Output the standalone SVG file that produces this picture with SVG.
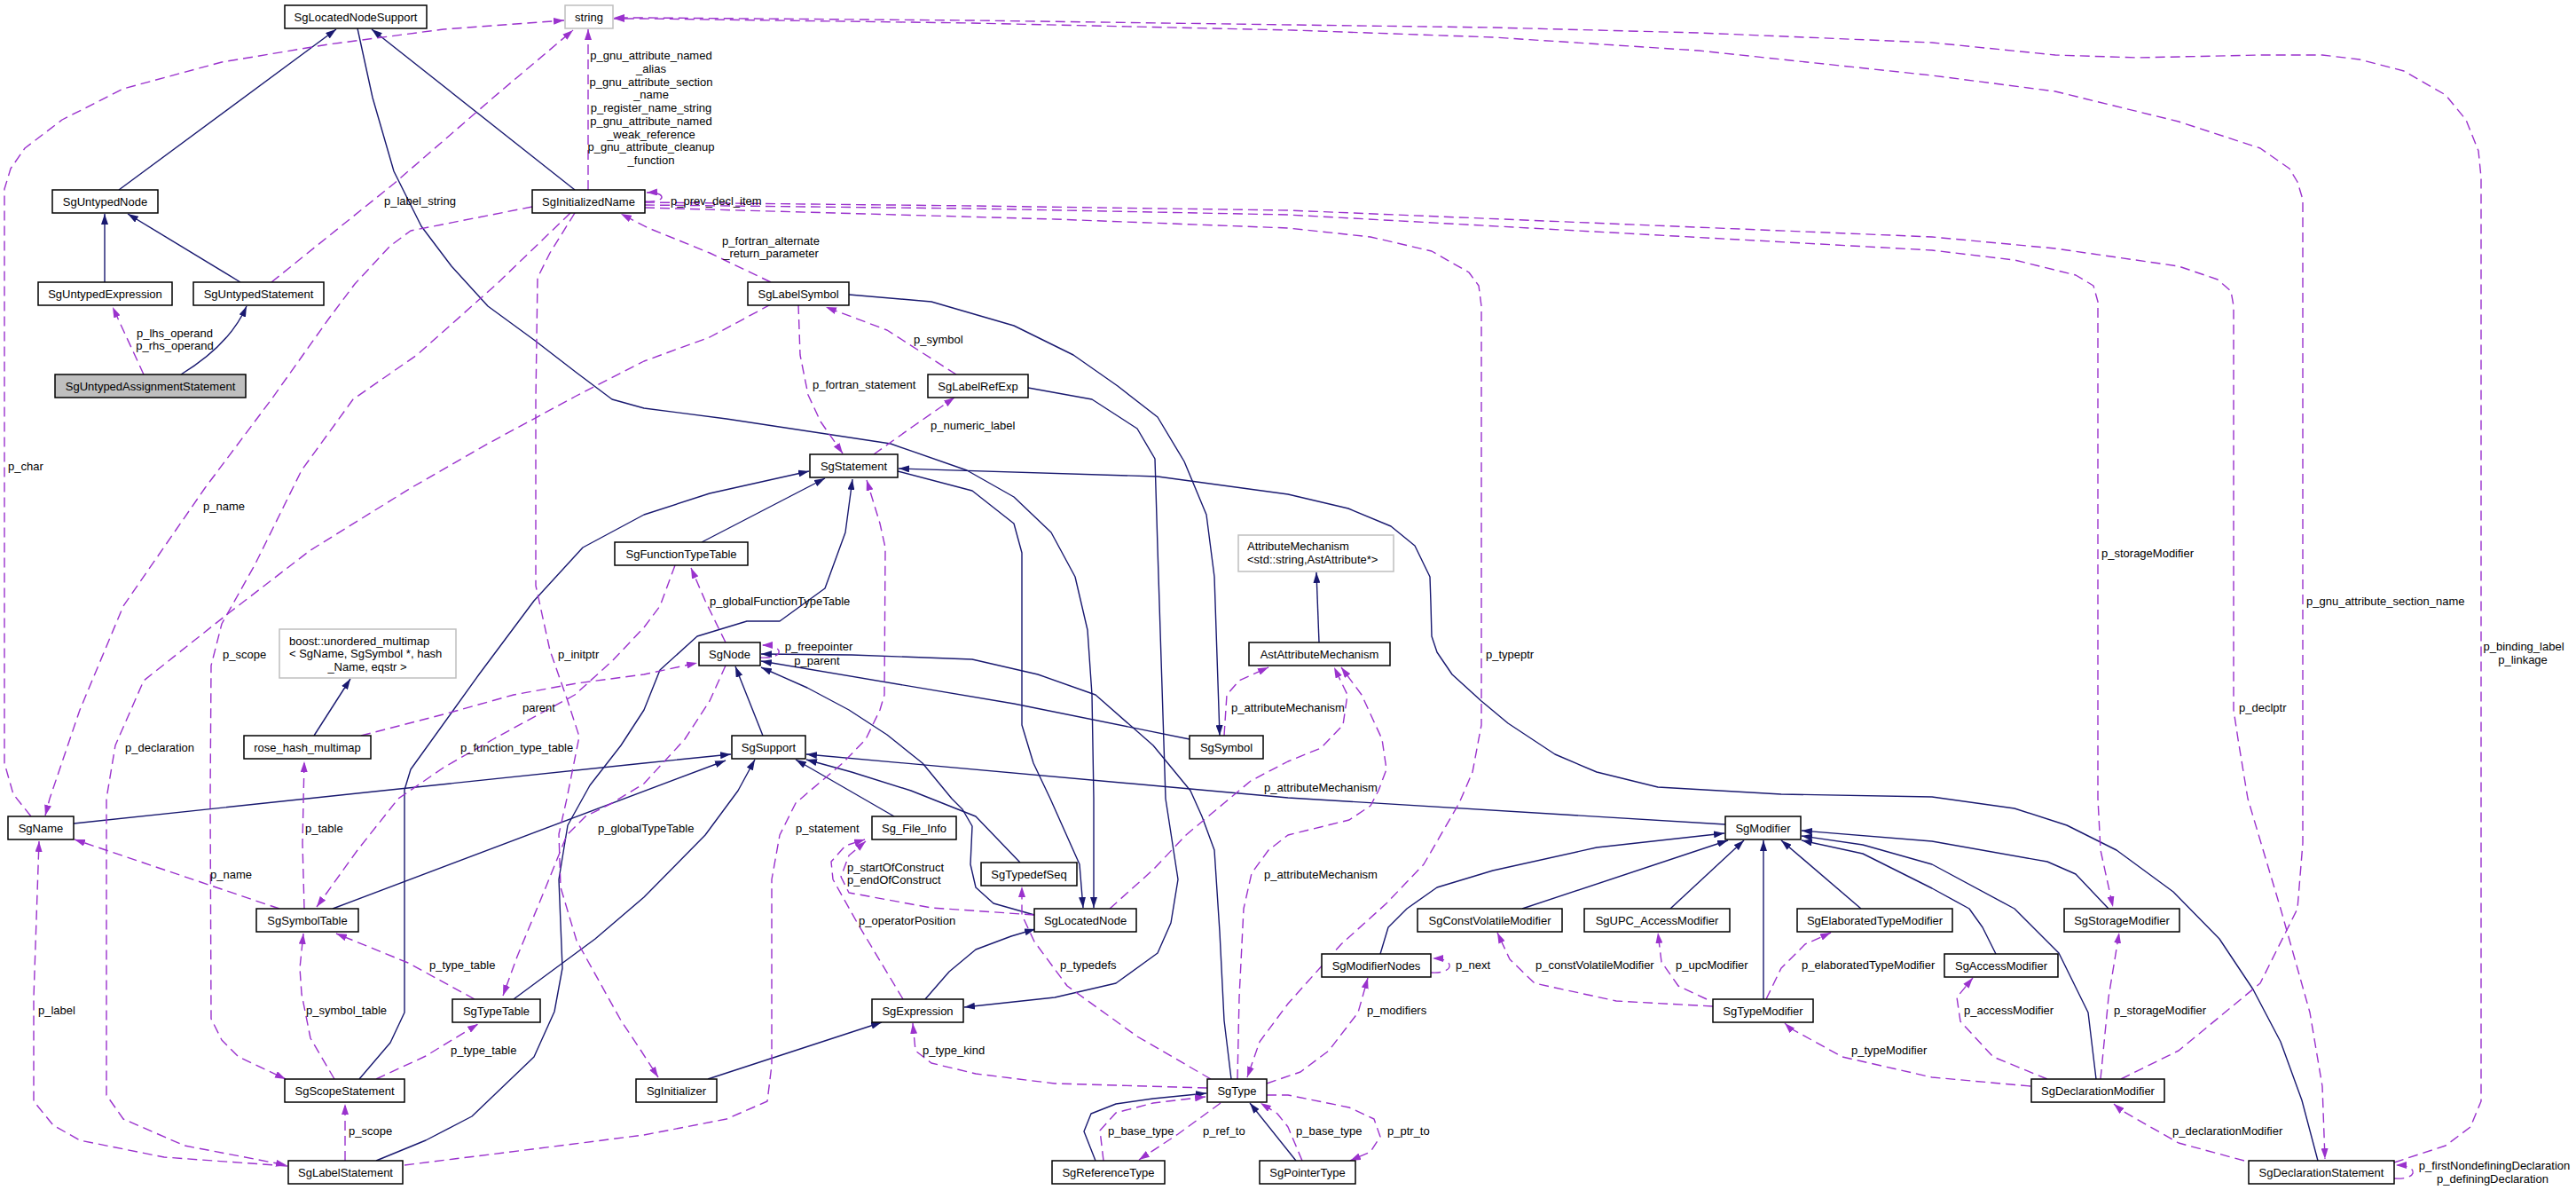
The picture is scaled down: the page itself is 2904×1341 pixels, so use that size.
<svg xmlns="http://www.w3.org/2000/svg" width="2904" height="1341" viewBox="0 0 2904 1341">
<style>
text{font-family:"Liberation Sans",Arial,sans-serif;font-size:13px;fill:#000}
.nd rect{fill:#fff;stroke:#000;stroke-width:1.5}
.ex rect{fill:#fff;stroke:#bfbfbf;stroke-width:1.5}
.sel rect{fill:#bfbfbf;stroke:#000;stroke-width:1.5}
.nd text,.ex text.c,.sel text,.c{text-anchor:middle}
.i{fill:none;stroke:#191970;stroke-width:1.4;stroke-linejoin:round;marker-end:url(#an)}
.u{fill:none;stroke:#9a32cd;stroke-width:1.4;stroke-dasharray:11,6;stroke-linejoin:round;marker-end:url(#ap)}
</style>
<defs>
<marker id="an" viewBox="0 0 12 8" refX="12" refY="4" markerWidth="12" markerHeight="8" markerUnits="userSpaceOnUse" orient="auto"><path d="M0,0L12,4L0,8z" fill="#191970"/></marker>
<marker id="ap" viewBox="0 0 12 8" refX="12" refY="4" markerWidth="12" markerHeight="8" markerUnits="userSpaceOnUse" orient="auto"><path d="M0,0L12,4L0,8z" fill="#9a32cd"/></marker>
</defs>
<rect width="2904" height="1341" fill="#fff"/>
<g id="connectors">
<path class="i" d="M204,422 C240,400 265,375 278,345"/>
<path class="i" d="M118,318 L118,241"/>
<path class="i" d="M271,318 L144,241"/>
<path class="i" d="M134,214 L379,33"/>
<path class="i" d="M648,214 L419,33"/>
<path class="i" d="M403,32 L420,110 L444,193 L475,255 L509,300 L550,345 L602,383 L650,420 L690,450 L726,460 L819,472 L1004,500 L1090,530 L1143,560 L1185,600 L1212,650 L1226,710 L1231,783 L1233,900 L1233,1023"/>
<path class="i" d="M1012,531 L1096,553 L1143,590 L1152,623 L1152,817 L1165,860 L1184,900 L1217,974 L1221,1023"/>
<path class="i" d="M791,611 L930,539"/>
<path class="i" d="M405,1216 L440,1175 L456,1141 L456,890 L463,867 L540,760 L602,677 L657,617 L726,580 L800,556 L912,531"/>
<path class="i" d="M424,1308 L480,1285 L532,1258 L602,1191 L625,1140 L634,1091 L630,991 L640,930 L665,885 L700,840 L726,800 L744,755 L786,717 L842,700 L879,700 L930,663 L953,600 L961,540"/>
<path class="i" d="M2613,1308 L2595,1240 L2571,1174 L2540,1115 L2502,1058 L2450,1005 L2386,958 L2330,930 L2271,911 L2178,898 L2008,895 L1869,887 L1800,870 L1753,850 L1700,815 L1670,790 L1637,760 L1620,735 L1614,717 L1613,680 L1612,650 L1595,615 L1568,593 L1520,573 L1452,557 L1305,537 L1013,528"/>
<path class="i" d="M957,332 L1050,340 L1143,367 L1210,400 L1260,435 L1305,470 L1335,520 L1360,580 L1369,650 L1375,829"/>
<path class="i" d="M1159,437 L1231,450 L1282,483 L1302,517 L1305,617 L1314,900 L1328,991 L1320,1040 L1305,1074 L1258,1108 L1189,1124 L1087,1135"/>
<path class="i" d="M1043,1126 L1070,1095 L1100,1070 L1140,1055 L1167,1047"/>
<path class="i" d="M798,1216 L994,1152"/>
<path class="i" d="M1166,1031 L1120,1018 L1100,1000 L1094,974 L1096,931 L1085,912 L1073,900 L1040,860 L1000,828 L957,800 L910,775 L858,752"/>
<path class="i" d="M860,829 L829,751"/>
<path class="i" d="M1341,833 L1143,793 L858,745"/>
<path class="i" d="M1388,1216 L1380,1150 L1375,1050 L1369,958 L1355,920 L1342,891 L1300,840 L1235,783 L1170,760 L1096,743 L960,738 L858,737"/>
<path class="i" d="M83,928 L431,891 L726,860 L824,850"/>
<path class="i" d="M375,1024 L818,857"/>
<path class="i" d="M579,1126 L671,1058 L726,1011 L795,941 L832,891 L851,856"/>
<path class="i" d="M1008,920 L897,856"/>
<path class="i" d="M1150,972 L1100,920 L1027,891 L960,870 L909,856"/>
<path class="i" d="M1945,929 L1452,899 L909,850"/>
<path class="i" d="M354,829 L395,765"/>
<path class="i" d="M1487,724 L1484,645"/>
<path class="i" d="M1235,1308 L1222,1275 L1230,1255 L1258,1244 L1300,1238 L1360,1232"/>
<path class="i" d="M1461,1308 L1409,1243"/>
<path class="i" d="M1556,1075 L1565,1045 L1586,1024 L1620,1000 L1683,981 L1800,955 L1944,939"/>
<path class="i" d="M1716,1024 L1948,947"/>
<path class="i" d="M1883,1024 L1966,947"/>
<path class="i" d="M1988,1126 L1988,947"/>
<path class="i" d="M2098,1024 L2008,947"/>
<path class="i" d="M2250,1075 L2235,1045 L2220,1024 L2178,1001 L2100,962 L2031,947"/>
<path class="i" d="M2363,1216 L2354,1141 L2321,1074 L2271,1024 L2178,974 L2100,952 L2031,942"/>
<path class="i" d="M2377,1024 L2340,985 L2308,971 L2178,948 L2031,936"/>

<path class="u" d="M162,422 L127,346"/>
<path class="u" d="M306,318 L444,207 L556,110 L646,34"/>
<path class="u" d="M663,214 L663,33"/>
<path class="u" d="M35,920 L15,895 L5,860 L5,213 L12,190 L28,167 L70,135 L139,100 L250,70 L370,50 L500,33 L636,23"/>
<path class="u" d="M600,233 L463,260 L440,277 L400,320 L370,360 L306,450 L231,550 L139,683 L90,800 L56,900 L51,919"/>
<path class="u" d="M643,240 L560,320 L470,400 L398,450 L340,530 L287,637 L250,703 L238,750 L237,900 L238,1148 L250,1172 L269,1191 L322,1216"/>
<path class="u" d="M648,240 L620,285 L606,313 L604,450 L604,660 L620,733 L640,790 L653,830 L645,870 L639,900 L630,940 L632,1000 L650,1060 L700,1150 L722,1183 L742,1214"/>
<path class="u" d="M727,227 C752,229 752,216 729,217"/>
<path class="u" d="M727,228 L1096,232 L1452,237 L1815,252 L2178,267 L2317,280 L2456,300 L2500,315 L2515,328 L2518,345 L2518,800 L2523,833 L2534,900 L2571,1024 L2604,1141 L2618,1224 L2621,1306"/>
<path class="u" d="M727,231 L1096,235 L1452,242 L1815,262 L2178,282 L2271,293 L2340,310 L2360,322 L2365,340 L2365,900 L2368,958 L2382,1022"/>
<path class="u" d="M727,234 L1189,247 L1452,257 L1545,267 L1614,283 L1656,307 L1667,322 L1670,345 L1670,817 L1660,870 L1645,905 L1605,974 L1563,1018 L1512,1064 L1452,1131 L1420,1174 L1406,1214"/>
<path class="u" d="M869,318 L800,285 L731,257 L700,241"/>
<path class="u" d="M900,343 L902,400 L911,445 L925,475 L950,511"/>
<path class="u" d="M1078,422 L1000,372 L931,346"/>
<path class="u" d="M985,512 L1030,480 L1076,448"/>
<path class="u" d="M869,343 L800,380 L726,407 L648,447 L550,500 L463,550 L350,620 L259,690 L162,767 L130,840 L120,900 L120,1234 L139,1261 L208,1291 L323,1313"/>
<path class="u" d="M818,724 L795,677 L779,640"/>
<path class="u" d="M857,741 C885,743 885,727 859,727"/>
<path class="u" d="M407,829 L500,805 L579,783 L650,770 L726,760 L786,747"/>
<path class="u" d="M818,750 L800,790 L772,833 L726,883 L690,905 L660,920 L639,941 L616,998 L583,1078 L567,1122"/>
<path class="u" d="M761,637 L744,683 L726,707 L690,745 L648,783 L556,833 L500,865 L449,900 L403,958 L357,1022"/>
<path class="u" d="M343,1024 L341,950 L343,858"/>
<path class="u" d="M315,1024 L84,946"/>
<path class="u" d="M377,1216 L350,1170 L340,1120 L338,1091 L342,1052"/>
<path class="u" d="M535,1126 L460,1085 L379,1052"/>
<path class="u" d="M424,1216 L480,1190 L539,1154"/>
<path class="u" d="M389,1308 L389,1244"/>
<path class="u" d="M324,1314 L185,1304 L90,1285 L60,1268 L38,1241 L38,1124 L44,948"/>
<path class="u" d="M456,1313 L600,1295 L726,1279 L819,1261 L865,1241 L870,1200 L870,991 L879,941 L897,905 L911,893 L950,860 L976,833 L992,800 L997,783 L998,617 L992,590 L977,541"/>
<path class="u" d="M1166,1031 L1050,1023 L957,1006 L948,988 L957,964 L976,948"/>
<path class="u" d="M1018,1126 L967,1041 L939,991 L937,971 L953,953 L975,946"/>
<path class="u" d="M1251,1024 L1300,980 L1337,941 L1380,905 L1410,880 L1452,858 L1489,843 L1514,817 L1519,783 L1504,752"/>
<path class="u" d="M1380,829 L1383,783 L1397,767 L1430,752"/>
<path class="u" d="M1395,1216 L1397,1124 L1402,1024 L1411,984 L1430,958 L1452,941 L1521,924 L1545,908 L1554,891 L1563,867 L1558,833 L1535,783 L1512,752"/>
<path class="u" d="M1365,1216 L1282,1168 L1203,1111 L1166,1061 L1152,1031 L1152,999"/>
<path class="u" d="M1361,1226 L1189,1221 L1100,1210 L1050,1198 L1032,1184 L1029,1153"/>
<path class="u" d="M1428,1221 L1466,1208 L1498,1184 L1531,1141 L1542,1102"/>
<path class="u" d="M1244,1308 L1240,1274 L1258,1254 L1300,1243 L1359,1236"/>
<path class="u" d="M1376,1243 L1328,1278 L1284,1307"/>
<path class="u" d="M1468,1308 L1452,1270 L1440,1255 L1421,1243"/>
<path class="u" d="M1428,1234 L1452,1234 L1521,1248 L1549,1261 L1556,1281 L1545,1298 L1522,1308"/>
<path class="u" d="M1613,1096 C1640,1098 1642,1080 1615,1080"/>
<path class="u" d="M1931,1134 L1822,1128 L1730,1108 L1702,1081 L1688,1051"/>
<path class="u" d="M1924,1126 L1892,1111 L1873,1084 L1869,1051"/>
<path class="u" d="M1991,1126 L2008,1091 L2035,1064 L2064,1051"/>
<path class="u" d="M2289,1224 L2178,1214 L2077,1191 L2017,1158 L2012,1153"/>
<path class="u" d="M2308,1216 L2247,1191 L2210,1151 L2206,1124 L2224,1102"/>
<path class="u" d="M2368,1216 L2377,1124 L2389,1051"/>
<path class="u" d="M2530,1308 L2456,1288 L2391,1251 L2383,1244"/>
<path class="u" d="M2391,1216 L2456,1184 L2548,1108 L2590,1024 L2596,950 L2596,225 L2590,205 L2581,190 L2548,167 L2456,137 L2317,103 L2178,85 L1915,57 L1683,42 L1457,34 L1096,26 L726,21 L692,21"/>
<path class="u" d="M2699,1310 L2757,1291 L2785,1270 L2797,1241 L2797,200 L2794,170 L2780,135 L2757,107 L2710,80 L2660,67 L2618,62 L2548,62 L2409,65 L2317,62 L2178,48 L1915,37 L1683,31 L1457,28 L1096,23 L726,20 L692,20"/>
<path class="u" d="M2699,1328 C2726,1330 2728,1313 2701,1313"/>

<g id="edge-labels">
<text class="c" x="197" y="379.5">p_lhs_operand</text>
<text class="c" x="197" y="393.5">p_rhs_operand</text>
<text x="433" y="230.5">p_label_string</text>
<text class="c" x="734" y="66.5">p_gnu_attribute_named</text>
<text class="c" x="734" y="81.5">_alias</text>
<text class="c" x="734" y="96.5">p_gnu_attribute_section</text>
<text class="c" x="734" y="111">_name</text>
<text class="c" x="734" y="126">p_register_name_string</text>
<text class="c" x="734" y="141">p_gnu_attribute_named</text>
<text class="c" x="734" y="155.5">_weak_reference</text>
<text class="c" x="734" y="170">p_gnu_attribute_cleanup</text>
<text class="c" x="734" y="185">_function</text>
<text x="756" y="230.5">p_prev_decl_item</text>
<text class="c" x="869" y="275.5">p_fortran_alternate</text>
<text class="c" x="869" y="289.5">_return_parameter</text>
<text x="1030" y="386.5">p_symbol</text>
<text x="916" y="437.5">p_fortran_statement</text>
<text x="1049" y="483.5">p_numeric_label</text>
<text x="9" y="529.5">p_char</text>
<text x="229" y="574.5">p_name</text>
<text x="800" y="681.5">p_globalFunctionTypeTable</text>
<text class="c" x="923" y="732.5">p_freepointer</text>
<text class="c" x="921" y="748.5">p_parent</text>
<text x="251" y="741.5">p_scope</text>
<text x="629" y="741.5">p_initptr</text>
<text x="1675" y="741.5">p_typeptr</text>
<text x="1388" y="801.5">p_attributeMechanism</text>
<text x="1425" y="891.5">p_attributeMechanism</text>
<text x="1425" y="989.5">p_attributeMechanism</text>
<text x="589" y="801.5">parent</text>
<text x="141" y="846.5">p_declaration</text>
<text x="519" y="846.5">p_function_type_table</text>
<text x="2369" y="627.5">p_storageModifier</text>
<text x="2600" y="681.5">p_gnu_attribute_section_name</text>
<text class="c" x="2845" y="732.5">p_binding_label</text>
<text class="c" x="2844" y="747.5">p_linkage</text>
<text x="2524" y="801.5">p_declptr</text>
<text x="344" y="937.5">p_table</text>
<text x="674" y="937.5">p_globalTypeTable</text>
<text x="897" y="937.5">p_statement</text>
<text x="237" y="989.5">p_name</text>
<text x="955" y="981.5">p_startOfConstruct</text>
<text x="955" y="995.5">p_endOfConstruct</text>
<text x="968" y="1041.5">p_operatorPosition</text>
<text x="1195" y="1091.5">p_typedefs</text>
<text x="484" y="1091.5">p_type_table</text>
<text x="1641" y="1091.5">p_next</text>
<text x="1731" y="1091.5">p_constVolatileModifier</text>
<text x="1889" y="1091.5">p_upcModifier</text>
<text x="2031" y="1091.5">p_elaboratedTypeModifier</text>
<text x="43" y="1142.5">p_label</text>
<text x="345" y="1142.5">p_symbol_table</text>
<text x="1541" y="1142.5">p_modifiers</text>
<text x="2214" y="1142.5">p_accessModifier</text>
<text x="2383" y="1142.5">p_storageModifier</text>
<text x="508" y="1187.5">p_type_table</text>
<text x="1040" y="1187.5">p_type_kind</text>
<text x="2087" y="1187.5">p_typeModifier</text>
<text x="393" y="1278.5">p_scope</text>
<text x="1249" y="1278.5">p_base_type</text>
<text x="1356" y="1278.5">p_ref_to</text>
<text x="1461" y="1278.5">p_base_type</text>
<text x="1564" y="1278.5">p_ptr_to</text>
<text x="2449" y="1278.5">p_declarationModifier</text>
<text class="c" x="2812" y="1317.5">p_firstNondefiningDeclaration</text>
<text class="c" x="2810" y="1332.5">p_definingDeclaration</text>
</g>
</g>

<g id="SgLocatedNodeSupport" class="nd"><rect x="321" y="6" width="160" height="26"/><text x="401" y="23.5">SgLocatedNodeSupport</text></g>
<g id="string" class="ex"><rect x="637" y="6" width="54" height="26"/><text class="c" x="664" y="23.5">string</text></g>
<g id="SgUntypedNode" class="nd"><rect x="59" y="214" width="119" height="26"/><text x="118.5" y="231.5">SgUntypedNode</text></g>
<g id="SgInitializedName" class="nd"><rect x="600" y="214" width="127" height="26"/><text x="663.5" y="231.5">SgInitializedName</text></g>
<g id="SgUntypedExpression" class="nd"><rect x="43" y="318" width="151" height="26"/><text x="118.5" y="335.5">SgUntypedExpression</text></g>
<g id="SgUntypedStatement" class="nd"><rect x="218" y="318" width="147" height="26"/><text x="291.5" y="335.5">SgUntypedStatement</text></g>
<g id="SgUntypedAssignmentStatement" class="sel"><rect x="62" y="422" width="215" height="26"/><text x="169.5" y="439.5">SgUntypedAssignmentStatement</text></g>
<g id="SgLabelSymbol" class="nd"><rect x="843" y="318" width="114" height="26"/><text x="900" y="335.5">SgLabelSymbol</text></g>
<g id="SgLabelRefExp" class="nd"><rect x="1046" y="422" width="113" height="26"/><text x="1102.5" y="439.5">SgLabelRefExp</text></g>
<g id="SgStatement" class="nd"><rect x="913" y="512" width="99" height="26"/><text x="962.5" y="529.5">SgStatement</text></g>
<g id="SgFunctionTypeTable" class="nd"><rect x="693" y="611" width="150" height="26"/><text x="768" y="628.5">SgFunctionTypeTable</text></g>
<g id="AttributeMechanism" class="ex"><rect x="1396" y="603" width="175" height="41"/><text x="1406" y="619.5">AttributeMechanism</text><text x="1406" y="635">&lt;std::string,AstAttribute*&gt;</text></g>
<g id="boost_unordered_multimap" class="ex"><rect x="315" y="709" width="199" height="55"/><text x="326" y="726.5">boost::unordered_multimap</text><text x="326" y="740.5">&lt; SgName, SgSymbol *, hash</text><text class="c" x="414" y="755.5">_Name, eqstr &gt;</text></g>
<g id="SgNode" class="nd"><rect x="788" y="724" width="69" height="26"/><text x="822.5" y="741.5">SgNode</text></g>
<g id="AstAttributeMechanism" class="nd"><rect x="1408" y="724" width="159" height="26"/><text x="1487.5" y="741.5">AstAttributeMechanism</text></g>
<g id="SgSupport" class="nd"><rect x="825" y="829" width="83" height="26"/><text x="866.5" y="846.5">SgSupport</text></g>
<g id="rose_hash_multimap" class="nd"><rect x="275" y="829" width="143" height="26"/><text x="346.5" y="846.5">rose_hash_multimap</text></g>
<g id="SgSymbol" class="nd"><rect x="1341" y="829" width="83" height="26"/><text x="1382.5" y="846.5">SgSymbol</text></g>
<g id="SgName" class="nd"><rect x="9" y="920" width="74" height="26"/><text x="46" y="937.5">SgName</text></g>
<g id="Sg_File_Info" class="nd"><rect x="983" y="920" width="95" height="26"/><text x="1030.5" y="937.5">Sg_File_Info</text></g>
<g id="SgModifier" class="nd"><rect x="1945" y="920" width="85" height="26"/><text x="1987.5" y="937.5">SgModifier</text></g>
<g id="SgTypedefSeq" class="nd"><rect x="1106" y="972" width="108" height="26"/><text x="1160" y="989.5">SgTypedefSeq</text></g>
<g id="SgSymbolTable" class="nd"><rect x="289" y="1024" width="115" height="26"/><text x="346.5" y="1041.5">SgSymbolTable</text></g>
<g id="SgLocatedNode" class="nd"><rect x="1166" y="1024" width="115" height="26"/><text x="1223.5" y="1041.5">SgLocatedNode</text></g>
<g id="SgConstVolatileModifier" class="nd"><rect x="1598" y="1024" width="163" height="26"/><text x="1679.5" y="1041.5">SgConstVolatileModifier</text></g>
<g id="SgUPC_AccessModifier" class="nd"><rect x="1786" y="1024" width="164" height="26"/><text x="1868" y="1041.5">SgUPC_AccessModifier</text></g>
<g id="SgElaboratedTypeModifier" class="nd"><rect x="2026" y="1024" width="175" height="26"/><text x="2113.5" y="1041.5">SgElaboratedTypeModifier</text></g>
<g id="SgStorageModifier" class="nd"><rect x="2327" y="1024" width="130" height="26"/><text x="2392" y="1041.5">SgStorageModifier</text></g>
<g id="SgModifierNodes" class="nd"><rect x="1490" y="1075" width="123" height="26"/><text x="1551.5" y="1092.5">SgModifierNodes</text></g>
<g id="SgAccessModifier" class="nd"><rect x="2192" y="1075" width="128" height="26"/><text x="2256" y="1092.5">SgAccessModifier</text></g>
<g id="SgTypeTable" class="nd"><rect x="510" y="1126" width="99" height="26"/><text x="559.5" y="1143.5">SgTypeTable</text></g>
<g id="SgExpression" class="nd"><rect x="983" y="1126" width="103" height="26"/><text x="1034.5" y="1143.5">SgExpression</text></g>
<g id="SgTypeModifier" class="nd"><rect x="1931" y="1126" width="113" height="26"/><text x="1987.5" y="1143.5">SgTypeModifier</text></g>
<g id="SgScopeStatement" class="nd"><rect x="321" y="1216" width="135" height="26"/><text x="388.5" y="1233.5">SgScopeStatement</text></g>
<g id="SgInitializer" class="nd"><rect x="717" y="1216" width="91" height="26"/><text x="762.5" y="1233.5">SgInitializer</text></g>
<g id="SgType" class="nd"><rect x="1361" y="1216" width="67" height="26"/><text x="1394.5" y="1233.5">SgType</text></g>
<g id="SgDeclarationModifier" class="nd"><rect x="2290" y="1216" width="150" height="26"/><text x="2365" y="1233.5">SgDeclarationModifier</text></g>
<g id="SgLabelStatement" class="nd"><rect x="325" y="1308" width="129" height="26"/><text x="389.5" y="1325.5">SgLabelStatement</text></g>
<g id="SgReferenceType" class="nd"><rect x="1186" y="1308" width="127" height="26"/><text x="1249.5" y="1325.5">SgReferenceType</text></g>
<g id="SgPointerType" class="nd"><rect x="1420" y="1308" width="108" height="26"/><text x="1474" y="1325.5">SgPointerType</text></g>
<g id="SgDeclarationStatement" class="nd"><rect x="2535" y="1308" width="164" height="26"/><text x="2617" y="1325.5">SgDeclarationStatement</text></g>
</svg>
